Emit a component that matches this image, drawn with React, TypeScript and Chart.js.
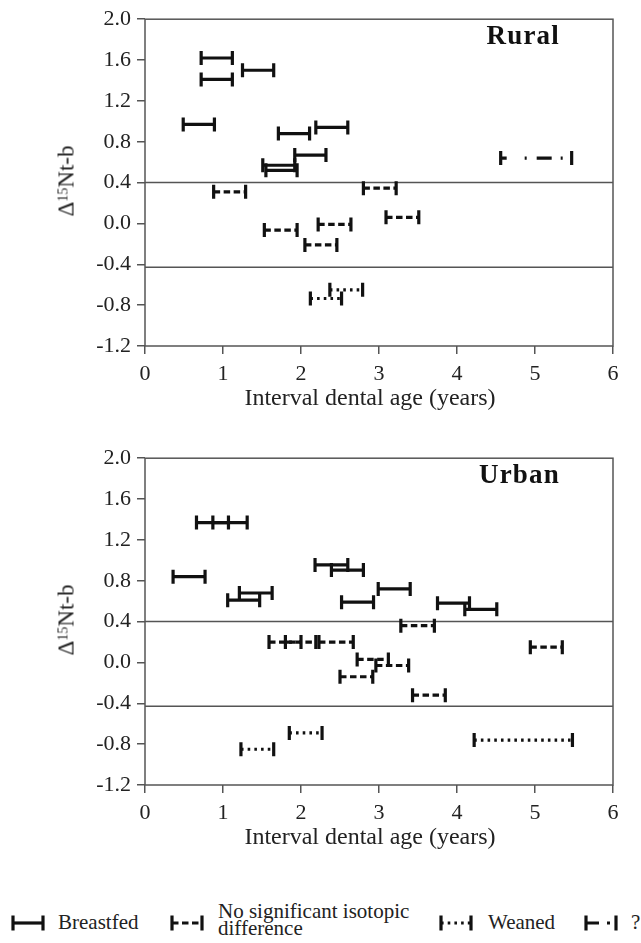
import React, { useEffect, useRef } from "react";
import { Chart, registerables } from "chart.js";

Chart.register(...registerables);

// ---------- data ----------
// each interval: [start age (years), end age (years), Δ15N t-b value]
type Interval = [number, number, number];

const xTickValues = [0, 1, 2, 3, 4, 5, 6];
const yTickValues = [2.0, 1.6, 1.2, 0.8, 0.4, 0.0, -0.4, -0.8, -1.2];
const cutoffLines = [0.4, -0.43];

const ruralBreastfed: Interval[] = [
  [0.72, 1.12, 1.62],
  [0.72, 1.12, 1.41],
  [1.25, 1.65, 1.5],
  [0.49, 0.89, 0.97],
  [1.71, 2.11, 0.88],
  [2.19, 2.6, 0.94],
  [1.92, 2.32, 0.67],
  [1.51, 1.92, 0.57],
  [1.55, 1.95, 0.52],
];
const ruralNoDiff: Interval[] = [
  [0.88, 1.29, 0.31],
  [2.8, 3.22, 0.345],
  [3.09, 3.51, 0.06],
  [1.53, 1.95, -0.065],
  [2.22, 2.64, -0.01],
  [2.05, 2.46, -0.21],
];
const ruralWeaned: Interval[] = [
  [2.12, 2.52, -0.735],
  [2.37, 2.79, -0.65],
];
const ruralUnknown: Interval[] = [[4.56, 5.47, 0.64]];

const urbanBreastfed: Interval[] = [
  [0.66, 1.07, 1.37],
  [0.87, 1.31, 1.37],
  [0.36, 0.77, 0.84],
  [1.21, 1.63, 0.68],
  [1.06, 1.47, 0.61],
  [2.18, 2.6, 0.955],
  [2.39, 2.8, 0.905],
  [2.99, 3.4, 0.72],
  [2.52, 2.93, 0.59],
  [3.75, 4.16, 0.58],
  [4.1, 4.51, 0.52],
];
const urbanNoDiff: Interval[] = [
  [3.28, 3.71, 0.36],
  [1.59, 2.0, 0.2],
  [1.8, 2.19, 0.2],
  [2.23, 2.67, 0.2],
  [4.94, 5.35, 0.15],
  [2.72, 3.12, 0.03],
  [2.96, 3.38, -0.03],
  [2.5, 2.92, -0.14],
  [3.43, 3.85, -0.32],
];
const urbanWeaned: Interval[] = [
  [1.85, 2.27, -0.69],
  [1.23, 1.65, -0.85],
  [4.22, 5.48, -0.76],
];
const urbanUnknown: Interval[] = [];

// ---------- styles ----------
const INK = "#111";
const FRAME = "#555";
const FONT = "'Liberation Serif', 'Times New Roman', serif";
const DASH_SOLID: number[] = [];
const DASH_NODIFF = [6.5, 3.5];
const DASH_WEANED = [2.6, 4.1];
const DASH_UNKNOWN = [6, 18, 2, 10, 15, 9, 2, 40];

function intervalSets(rows: Interval[], dash: number[]) {
  return rows.map(([s, e, v]) => ({
    data: [
      { x: s, y: v },
      { x: e, y: v },
    ],
    showLine: true,
    borderColor: INK,
    borderWidth: 3.2,
    borderDash: dash,
    borderCapStyle: "butt",
    pointStyle: "line",
    pointRotation: 90,
    pointRadius: 7,
    pointHoverRadius: 7,
    pointBorderWidth: 3.2,
    pointBorderColor: INK,
    pointBackgroundColor: INK,
    order: 1,
  }));
}

function cutoffSets() {
  return cutoffLines.map((v) => ({
    data: [
      { x: xTickValues[0], y: v },
      { x: xTickValues[xTickValues.length - 1], y: v },
    ],
    showLine: true,
    borderColor: FRAME,
    borderWidth: 1.5,
    pointRadius: 0,
    order: 2,
  }));
}

const framePlugin = {
  id: "frame",
  beforeDatasetsDraw(chart: any) {
    const { ctx, chartArea: a } = chart;
    ctx.save();
    ctx.strokeStyle = FRAME;
    ctx.lineWidth = 1.5;
    ctx.strokeRect(a.left, a.top, a.right - a.left, a.bottom - a.top);
    ctx.restore();
  },
};

interface PanelProps {
  top: number;
  label: string;
  breastfed: Interval[];
  noDiff: Interval[];
  weaned: Interval[];
  unknown: Interval[];
}

function Panel({ top, label, breastfed, noDiff, weaned, unknown }: PanelProps) {
  const ref = useRef<HTMLCanvasElement | null>(null);

  useEffect(() => {
    if (!ref.current) return;
    const tickFont = { family: FONT, size: 22 };
    const grid = {
      drawOnChartArea: false,
      drawTicks: true,
      tickLength: 8,
      color: FRAME,
      lineWidth: 1.5,
    };
    const chart = new Chart(ref.current, {
      type: "scatter",
      data: {
        datasets: [
          ...cutoffSets(),
          ...intervalSets(breastfed, DASH_SOLID),
          ...intervalSets(noDiff, DASH_NODIFF),
          ...intervalSets(weaned, DASH_WEANED),
          ...intervalSets(unknown, DASH_UNKNOWN),
        ] as any,
      },
      options: {
        animation: false,
        responsive: false,
        events: [],
        layout: { padding: { top: 15, right: 28, left: 0, bottom: 0 } },
        plugins: {
          legend: { display: false },
          tooltip: { enabled: false },
        },
        scales: {
          x: {
            type: "linear",
            min: xTickValues[0],
            max: xTickValues[xTickValues.length - 1],
            afterBuildTicks: (s: any) => {
              s.ticks = xTickValues.map((v) => ({ value: v }));
            },
            ticks: {
              font: tickFont,
              color: "#222",
              padding: 7,
              callback: (v: any) => String(v),
            },
            grid,
            border: { display: false },
            afterFit: (s: any) => {
              s.height = 64;
            },
          },
          y: {
            type: "linear",
            min: yTickValues[yTickValues.length - 1],
            max: yTickValues[0],
            afterBuildTicks: (s: any) => {
              s.ticks = yTickValues.map((v) => ({ value: v }));
            },
            ticks: {
              font: tickFont,
              color: "#222",
              padding: 6,
              callback: (v: any) => Number(v).toFixed(1),
            },
            grid,
            border: { display: false },
            afterFit: (s: any) => {
              s.width = 145;
            },
          },
        },
      } as any,
      plugins: [framePlugin],
    });
    return () => chart.destroy();
  }, []);

  return (
    <>
      <canvas
        ref={ref}
        width={641}
        height={410}
        style={{ position: "absolute", left: 0, top, width: 641, height: 410, display: "block" }}
      />
      <div
        style={{
          position: "absolute",
          left: 560,
          top: top + 35,
          transform: "translate(-100%, -50%)",
          fontFamily: FONT,
          fontWeight: "bold",
          fontSize: 27,
          lineHeight: "27px",
          letterSpacing: "1.2px",
          color: "#111",
          whiteSpace: "nowrap",
        }}
      >
        {label}
      </div>
      <div
        style={{
          position: "absolute",
          left: 66,
          top: top + 181,
          transform: "translate(-50%, -50%) rotate(-90deg)",
          fontFamily: FONT,
          fontSize: 23,
          lineHeight: "23px",
          color: "#222",
          whiteSpace: "nowrap",
        }}
      >
        Δ<sup style={{ fontSize: 14, verticalAlign: "6px", lineHeight: 0 }}>15</sup>Nt-b
      </div>
      <div
        style={{
          position: "absolute",
          left: 370,
          top: top + 385,
          transform: "translateX(-50%)",
          fontFamily: FONT,
          fontSize: 24,
          lineHeight: "24px",
          color: "#222",
          whiteSpace: "nowrap",
        }}
      >
        Interval dental age (years)
      </div>
    </>
  );
}

function Symbol({ dash, left }: { dash: string; left: number }) {
  return (
    <svg
      width={34}
      height={18}
      style={{ position: "absolute", left, top: 914 }}
      viewBox="0 0 34 18"
    >
      <line x1={2} y1={9} x2={32} y2={9} stroke={INK} strokeWidth={3.2} strokeDasharray={dash} />
      <line x1={2} y1={1.5} x2={2} y2={16.5} stroke={INK} strokeWidth={3.2} />
      <line x1={32} y1={1.5} x2={32} y2={16.5} stroke={INK} strokeWidth={3.2} />
    </svg>
  );
}

const legendText: React.CSSProperties = {
  position: "absolute",
  fontFamily: FONT,
  fontSize: 21,
  lineHeight: "21px",
  color: "#222",
  whiteSpace: "nowrap",
};

export default function App() {
  return (
    <div style={{ position: "absolute", left: 0, top: 0, width: 641, height: 943, background: "#fff", overflow: "hidden" }}>
      <Panel
        top={0}
        label="Rural"
        breastfed={ruralBreastfed}
        noDiff={ruralNoDiff}
        weaned={ruralWeaned}
        unknown={ruralUnknown}
      />
      <Panel
        top={439}
        label="Urban"
        breastfed={urbanBreastfed}
        noDiff={urbanNoDiff}
        weaned={urbanWeaned}
        unknown={urbanUnknown}
      />
      <Symbol left={11} dash="" />
      <div style={{ ...legendText, left: 58, top: 912 }}>Breastfed</div>
      <Symbol left={170} dash="6.5 3.5" />
      <div style={{ ...legendText, left: 218, top: 903, lineHeight: "17px" }}>
        No significant isotopic
        <br />
        difference
      </div>
      <Symbol left={439} dash="2.6 4.1" />
      <div style={{ ...legendText, left: 488, top: 912 }}>Weaned</div>
      <Symbol left={584} dash="13 8 3 100" />
      <div style={{ ...legendText, left: 631, top: 912 }}>?</div>
    </div>
  );
}
